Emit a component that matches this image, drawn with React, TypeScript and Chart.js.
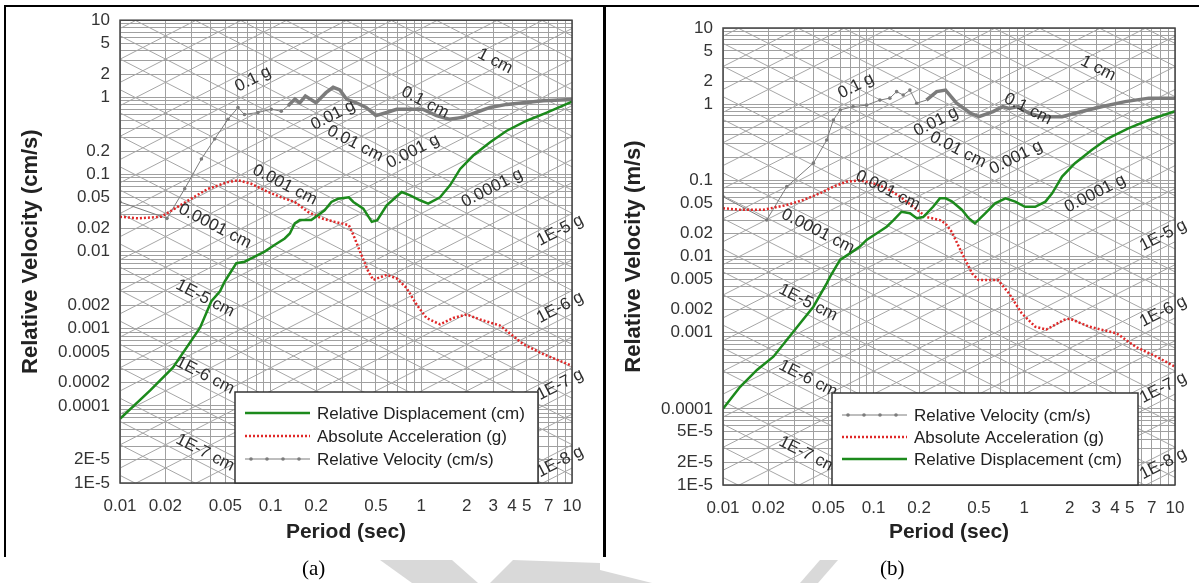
import React, { useEffect, useRef } from 'react';
import { Chart, registerables } from 'chart.js';

Chart.register(...registerables);

// ---------------- Panel (a) data ----------------
const periodDispA = [0.01, 0.0158, 0.0225, 0.034, 0.0404, 0.0461, 0.0496, 0.0592, 0.0672, 0.0783, 0.0912, 0.106, 0.124, 0.134, 0.1445, 0.156, 0.186, 0.206, 0.228, 0.253, 0.28, 0.33, 0.354, 0.412, 0.469, 0.51, 0.589, 0.741, 0.842, 0.98, 1.11, 1.33, 1.55, 1.81, 2.21, 2.86, 3.69, 5.0, 6.8, 10];
const relDispA = [6.8e-5, 1.58e-4, 3.15e-4, 1.03e-3, 2.27e-3, 3.05e-3, 4.1e-3, 7.08e-3, 7.4e-3, 8.6e-3, 0.01, 0.0122, 0.0148, 0.0172, 0.0232, 0.0256, 0.0256, 0.0297, 0.0344, 0.044, 0.0486, 0.0505, 0.044, 0.0361, 0.0243, 0.0256, 0.0399, 0.0593, 0.0537, 0.0463, 0.0419, 0.0505, 0.0723, 0.118, 0.176, 0.261, 0.369, 0.497, 0.635, 0.88];

const periodAccA = [0.01, 0.0132, 0.0188, 0.0231, 0.0297, 0.0384, 0.0521, 0.0607, 0.0743, 0.096, 0.1176, 0.1445, 0.177, 0.217, 0.266, 0.33, 0.354, 0.392, 0.445, 0.48, 0.589, 0.686, 0.798, 0.93, 1.08, 1.33, 1.63, 2.0, 2.45, 3.33, 4.75, 6.45, 10];
const absAccA = [0.0283, 0.027, 0.0283, 0.0361, 0.0486, 0.0653, 0.0796, 0.084, 0.0758, 0.0593, 0.0505, 0.044, 0.0327, 0.027, 0.0243, 0.0221, 0.0164, 0.01, 5.5e-3, 4.3e-3, 5.0e-3, 4.5e-3, 3.37e-3, 2.06e-3, 1.38e-3, 1.14e-3, 1.38e-3, 1.53e-3, 1.32e-3, 1.1e-3, 6.3e-4, 4.68e-4, 3.3e-4];

const periodVelA = [0.01, 0.0205, 0.0269, 0.0347, 0.0425, 0.0521, 0.0607, 0.067, 0.0824, 0.101, 0.1176, 0.13, 0.145, 0.156, 0.17, 0.2, 0.233, 0.26, 0.288, 0.32, 0.37, 0.43, 0.5, 0.589, 0.686, 0.8, 1.02, 1.26, 1.53, 1.89, 2.3, 2.86, 3.69, 4.75, 6.45, 10];
const relVelA = [0.044, 0.027, 0.0653, 0.159, 0.288, 0.52, 0.736, 0.6, 0.636, 0.7, 0.66, 0.77, 0.95, 0.85, 1.04, 0.85, 1.15, 1.35, 1.25, 0.94, 0.85, 0.74, 0.58, 0.636, 0.7, 0.7, 0.7, 0.58, 0.52, 0.55, 0.636, 0.74, 0.81, 0.85, 0.9, 0.94];

// ---------------- Panel (b) data ----------------
const periodDispB = [0.01, 0.013, 0.0168, 0.0216, 0.0265, 0.0325, 0.0398, 0.0488, 0.0513, 0.0598, 0.0696, 0.081, 0.0897, 0.105, 0.122, 0.1355, 0.153, 0.174, 0.193, 0.213, 0.248, 0.275, 0.3, 0.33, 0.386, 0.427, 0.47, 0.55, 0.64, 0.75, 0.87, 1.01, 1.18, 1.38, 1.53, 1.78, 2.17, 2.8, 3.6, 4.9, 6.7, 10];
const relDispB = [1.0e-4, 1.95e-4, 3.24e-4, 4.84e-4, 8.0e-4, 1.33e-3, 2.19e-3, 4.45e-3, 5.4e-3, 9.0e-3, 0.011, 0.0135, 0.0165, 0.0202, 0.0246, 0.0301, 0.0387, 0.037, 0.0318, 0.033, 0.045, 0.058, 0.058, 0.053, 0.0408, 0.0318, 0.0273, 0.0369, 0.0499, 0.058, 0.0525, 0.045, 0.045, 0.0525, 0.0676, 0.112, 0.168, 0.25, 0.356, 0.482, 0.62, 0.81];

const periodAccB = [0.01, 0.013, 0.0185, 0.0265, 0.034, 0.0441, 0.054, 0.066, 0.081, 0.0992, 0.122, 0.15, 0.183, 0.224, 0.275, 0.3, 0.33, 0.386, 0.45, 0.497, 0.67, 0.79, 0.96, 1.18, 1.4, 1.83, 2.0, 2.7, 4.1, 5.5, 7.6, 10];
const absAccB = [0.043, 0.041, 0.041, 0.0474, 0.0552, 0.0676, 0.0826, 0.096, 0.1, 0.0914, 0.0785, 0.061, 0.045, 0.033, 0.0301, 0.027, 0.021, 0.011, 6.0e-3, 4.9e-3, 4.9e-3, 3.29e-3, 1.8e-3, 1.2e-3, 1.1e-3, 1.47e-3, 1.53e-3, 1.2e-3, 9.8e-4, 6.5e-4, 4.8e-4, 3.57e-4];

const periodVelB = [0.01, 0.0195, 0.0265, 0.0398, 0.0488, 0.054, 0.06, 0.073, 0.0897, 0.11, 0.128, 0.142, 0.157, 0.174, 0.193, 0.224, 0.262, 0.3, 0.355, 0.44, 0.5, 0.62, 0.72, 0.79, 0.91, 1.07, 1.3, 1.78, 2.4, 3.3, 4.67, 6.7, 10];
const relVelB = [0.061, 0.0301, 0.0826, 0.168, 0.339, 0.62, 0.84, 0.93, 0.97, 1.13, 1.2, 1.46, 1.32, 1.53, 1.03, 1.13, 1.46, 1.53, 1.03, 0.76, 0.685, 0.8, 0.93, 0.88, 0.93, 0.76, 0.685, 0.685, 0.8, 0.93, 1.08, 1.2, 1.2];

// ---------------- Tick labels ----------------
const xTickValues = [0.01, 0.02, 0.05, 0.1, 0.2, 0.5, 1, 2, 3, 4, 5, 7, 10];
const xTickLabels = ['0.01', '0.02', '0.05', '0.1', '0.2', '0.5', '1', '2', '3', '4', '5', '7', '10'];
const yTickValuesA = [10, 5, 2, 1, 0.2, 0.1, 0.05, 0.02, 0.01, 0.002, 0.001, 0.0005, 0.0002, 0.0001, 2e-5, 1e-5];
const yTickLabelsA = ['10', '5', '2', '1', '0.2', '0.1', '0.05', '0.02', '0.01', '0.002', '0.001', '0.0005', '0.0002', '0.0001', '2E-5', '1E-5'];
const yTickValuesB = [10, 5, 2, 1, 0.1, 0.05, 0.02, 0.01, 0.005, 0.002, 0.001, 0.0001, 5e-5, 2e-5, 1e-5];
const yTickLabelsB = ['10', '5', '2', '1', '0.1', '0.05', '0.02', '0.01', '0.005', '0.002', '0.001', '0.0001', '5E-5', '2E-5', '1E-5'];

// ---------------- Tripartite labels ----------------
const dispLabelText = ['1E-7 cm', '1E-6 cm', '1E-5 cm', '0.0001 cm', '0.001 cm', '0.01 cm', '0.1 cm', '1 cm'];
const dispLabelValues = [1e-7, 1e-6, 1e-5, 1e-4, 1e-3, 0.01, 0.1, 1];
const dispLabelPeriods = [0.034, 0.034, 0.034, 0.0395, 0.115, 0.336, 0.98, 2.86];
const accLabelText = ['0.1 g', '0.01 g', '0.001 g', '0.0001 g', '1E-5 g', '1E-6 g', '1E-7 g', '1E-8 g'];
const accLabelValues = [0.1, 0.01, 0.001, 1e-4, 1e-5, 1e-6, 1e-7, 1e-8];
const accLabelPeriods = [0.0824, 0.28, 0.95, 3.18, 9, 9, 9, 9];

const G_CM = 981;
const FONT = "'Liberation Sans', Arial, Helvetica, sans-serif";
const GREEN = '#1c8a1c';
const RED = '#e02828';
const GRAY = '#7c7c7c';

function velFromDisp(d: number, t: number) { return (2 * Math.PI * d) / t; }
function velFromAcc(a: number, t: number) { return (a * G_CM * t) / (2 * Math.PI); }

function logGrid(minExp: number, maxExp: number) {
  const out: number[] = [];
  for (let e = minExp; e < maxExp; e++) for (let m = 1; m < 10; m++) out.push(m * Math.pow(10, e));
  out.push(Math.pow(10, maxExp));
  return out;
}
function diagValues(minExp: number, maxExp: number) {
  const out: number[] = [];
  for (let e = minExp; e <= maxExp; e++) for (const m of [1, 2, 5]) out.push(m * Math.pow(10, e));
  return out;
}
function labelFor(v: number, vals: number[], labels: string[]) {
  for (let i = 0; i < vals.length; i++) {
    if (Math.abs(Math.log10(v) - Math.log10(vals[i])) < 1e-6) return labels[i];
  }
  return '';
}

const xGrid = logGrid(-2, 1);
const yGrid = logGrid(-5, 1);
const dispDiag = diagValues(-9, 1);
const accDiag = diagValues(-10, 1);

function drawRotText(ctx: CanvasRenderingContext2D, text: string, x: number, y: number, ang: number) {
  ctx.save();
  ctx.translate(x, y);
  ctx.rotate(ang);
  ctx.fillText(text, 0, 0);
  ctx.restore();
}

const tripartitePlugin = {
  id: 'tripartite',
  beforeDatasetsDraw(chart: any) {
    const { ctx, chartArea: ca, scales } = chart;
    const x = scales.x, y = scales.y;
    ctx.save();
    ctx.beginPath();
    ctx.rect(ca.left, ca.top, ca.right - ca.left, ca.bottom - ca.top);
    ctx.clip();
    ctx.strokeStyle = '#a6a6a6';
    ctx.lineWidth = 1;
    const x1 = x.getPixelForValue(0.01), x2 = x.getPixelForValue(10);
    for (const d of dispDiag) {
      ctx.beginPath();
      ctx.moveTo(x1, y.getPixelForValue(velFromDisp(d, 0.01)));
      ctx.lineTo(x2, y.getPixelForValue(velFromDisp(d, 10)));
      ctx.stroke();
    }
    for (const a of accDiag) {
      ctx.beginPath();
      ctx.moveTo(x1, y.getPixelForValue(velFromAcc(a, 0.01)));
      ctx.lineTo(x2, y.getPixelForValue(velFromAcc(a, 10)));
      ctx.stroke();
    }
    ctx.restore();
  },
  afterDatasetsDraw(chart: any, _args: any, opts: any) {
    const { ctx, chartArea: ca, scales } = chart;
    const x = scales.x, y = scales.y;
    ctx.save();
    ctx.strokeStyle = '#444';
    ctx.lineWidth = 1.5;
    ctx.strokeRect(ca.left, ca.top, ca.right - ca.left, ca.bottom - ca.top);

    ctx.fillStyle = '#2e2e2e';
    ctx.font = `17px ${FONT}`;
    ctx.textAlign = 'center';
    ctx.textBaseline = 'middle';
    const off = 11;
    for (let i = 0; i < dispLabelText.length; i++) {
      const t = dispLabelPeriods[i], d = dispLabelValues[i];
      const px = x.getPixelForValue(t), py = y.getPixelForValue(velFromDisp(d, t));
      const qx = x.getPixelForValue(t * 2), qy = y.getPixelForValue(velFromDisp(d, t * 2));
      const ang = Math.atan2(qy - py, qx - px);
      drawRotText(ctx, dispLabelText[i], px + off * Math.sin(ang), py - off * Math.cos(ang), ang);
    }
    for (let i = 0; i < accLabelText.length; i++) {
      const t = accLabelPeriods[i], a = accLabelValues[i];
      const px = x.getPixelForValue(t), py = y.getPixelForValue(velFromAcc(a, t));
      const qx = x.getPixelForValue(t * 2), qy = y.getPixelForValue(velFromAcc(a, t * 2));
      const ang = Math.atan2(qy - py, qx - px);
      drawRotText(ctx, accLabelText[i], px + off * Math.sin(ang), py - off * Math.cos(ang), ang);
    }

    const lg = opts.legend;
    const bl = ca.left + lg.leftOff, br = ca.right - lg.rightOff;
    const bb = ca.bottom, bt = ca.bottom - lg.height;
    ctx.fillStyle = '#ffffff';
    ctx.fillRect(bl, bt, br - bl, bb - bt);
    ctx.strokeStyle = '#333';
    ctx.lineWidth = 1.5;
    ctx.strokeRect(bl, bt, br - bl, bb - bt);
    ctx.font = `17px ${FONT}`;
    ctx.textAlign = 'left';
    ctx.textBaseline = 'middle';
    lg.items.forEach((it: any, i: number) => {
      const yy = bt + lg.rowStart + i * lg.rowGap;
      const sx1 = bl + 10, sx2 = bl + 75;
      ctx.save();
      ctx.beginPath();
      ctx.moveTo(sx1, yy);
      ctx.lineTo(sx2, yy);
      if (it.kind === 'disp') {
        ctx.strokeStyle = GREEN; ctx.lineWidth = 2.5; ctx.stroke();
      } else if (it.kind === 'acc') {
        ctx.strokeStyle = RED; ctx.lineWidth = 2.5; ctx.setLineDash([2, 2]); ctx.stroke();
      } else {
        ctx.strokeStyle = GRAY; ctx.lineWidth = 1; ctx.stroke();
        ctx.fillStyle = GRAY;
        for (let k = sx1 + 6; k < sx2; k += 16) { ctx.beginPath(); ctx.arc(k, yy, 1.8, 0, Math.PI * 2); ctx.fill(); }
      }
      ctx.restore();
      ctx.fillStyle = '#222';
      ctx.fillText(it.text, bl + 82, yy + 1);
    });
    ctx.restore();
  },
};

type Panel = {
  width: number; padTop: number; padRight: number; yAxisWidth: number; xAxisHeight: number;
  yTitle: string; yTitlePad: number; xTitlePad: number;
  yTickValues: number[]; yTickLabels: string[];
  disp: [number[], number[]]; acc: [number[], number[]]; vel: [number[], number[]];
  thickFrom: number;
  legend: any;
};

function pts(p: number[], v: number[]) { return p.map((t, i) => ({ x: t, y: v[i] })); }

function makeConfig(p: Panel): any {
  return {
    type: 'line',
    data: {
      datasets: [
        {
          label: 'Relative Displacement (cm)', data: pts(p.disp[0], p.disp[1]),
          borderColor: GREEN, borderWidth: 2.5, pointRadius: 0, tension: 0, fill: false,
        },
        {
          label: 'Absolute Acceleration (g)', data: pts(p.acc[0], p.acc[1]),
          borderColor: RED, borderWidth: 2.5, borderDash: [2, 2], pointRadius: 0, tension: 0, fill: false,
        },
        {
          label: 'Relative Velocity (cm/s)', data: pts(p.vel[0], p.vel[1]),
          borderColor: GRAY, borderWidth: 1, backgroundColor: GRAY, tension: 0, fill: false,
          pointRadius: (c: any) => (c.raw && c.raw.x < p.thickFrom ? 1.8 : 0),
          pointBorderWidth: 0,
          segment: { borderWidth: (c: any) => (c.p0.parsed.x >= p.thickFrom ? 3.5 : 1) },
        },
      ],
    },
    options: {
      animation: false,
      responsive: false,
      maintainAspectRatio: false,
      events: [],
      layout: { padding: { left: 0, top: p.padTop, right: p.padRight, bottom: 0 } },
      plugins: {
        legend: { display: false },
        tooltip: { enabled: false },
        tripartite: { legend: p.legend },
      },
      scales: {
        x: {
          type: 'logarithmic', min: 0.01, max: 10,
          afterBuildTicks: (s: any) => { s.ticks = xGrid.map((v) => ({ value: v })); },
          afterFit: (s: any) => { s.height = p.xAxisHeight; },
          ticks: {
            autoSkip: false, maxRotation: 0, minRotation: 0, padding: 13, color: '#333',
            font: { family: FONT, size: 17 },
            callback: (v: any) => labelFor(Number(v), xTickValues, xTickLabels),
          },
          grid: { color: '#a0a0a0', lineWidth: 1, drawTicks: false },
          border: { display: false },
          title: {
            display: true, text: 'Period (sec)', color: '#222',
            font: { family: FONT, size: 21, weight: 'bold' },
            padding: { top: 0, bottom: p.xTitlePad },
          },
        },
        y: {
          type: 'logarithmic', min: 1e-5, max: 10,
          afterBuildTicks: (s: any) => { s.ticks = yGrid.map((v) => ({ value: v })); },
          afterFit: (s: any) => { s.width = p.yAxisWidth; },
          ticks: {
            autoSkip: false, padding: 10, color: '#333',
            font: { family: FONT, size: 17 },
            callback: (v: any) => labelFor(Number(v), p.yTickValues, p.yTickLabels),
          },
          grid: { color: '#a0a0a0', lineWidth: 1, drawTicks: false },
          border: { display: false },
          title: {
            display: true, text: p.yTitle, color: '#222',
            font: { family: FONT, size: 22, weight: 'bold' },
            padding: { top: p.yTitlePad, bottom: 0 },
          },
        },
      },
    },
    plugins: [tripartitePlugin],
  };
}

const panelA: Panel = {
  width: 600, padTop: 17, padRight: 28, yAxisWidth: 120, xAxisHeight: 100,
  yTitle: 'Relative Velocity (cm/s)', yTitlePad: 18, xTitlePad: 38,
  yTickValues: yTickValuesA, yTickLabels: yTickLabelsA,
  disp: [periodDispA, relDispA], acc: [periodAccA, absAccA], vel: [periodVelA, relVelA],
  thickFrom: 0.13,
  legend: {
    leftOff: 115, rightOff: 34, height: 91, rowStart: 21, rowGap: 23,
    items: [
      { kind: 'disp', text: 'Relative Displacement (cm)' },
      { kind: 'acc', text: 'Absolute Acceleration (g)' },
      { kind: 'vel', text: 'Relative Velocity (cm/s)' },
    ],
  },
};

const panelB: Panel = {
  width: 599, padTop: 28, padRight: 24, yAxisWidth: 123, xAxisHeight: 98,
  yTitle: 'Relative Velocity (m/s)', yTitlePad: 21, xTitlePad: 38,
  yTickValues: yTickValuesB, yTickLabels: yTickLabelsB,
  disp: [periodDispB, relDispB], acc: [periodAccB, absAccB], vel: [periodVelB, relVelB],
  thickFrom: 0.2,
  legend: {
    leftOff: 109, rightOff: 37, height: 92, rowStart: 22, rowGap: 22,
    items: [
      { kind: 'vel', text: 'Relative Velocity (cm/s)' },
      { kind: 'acc', text: 'Absolute Acceleration (g)' },
      { kind: 'disp', text: 'Relative Displacement (cm)' },
    ],
  },
};

function PanelChart({ panel, left }: { panel: Panel; left: number }) {
  const ref = useRef<HTMLCanvasElement | null>(null);
  useEffect(() => {
    if (!ref.current) return;
    const chart = new Chart(ref.current, makeConfig(panel));
    return () => chart.destroy();
  }, [panel]);
  return (
    <canvas
      ref={ref}
      width={panel.width}
      height={583}
      style={{ position: 'absolute', left, top: 0, width: panel.width, height: 583 }}
    />
  );
}

export default function App() {
  return (
    <div style={{ position: 'absolute', left: 0, top: 0, width: 1199, height: 583, background: '#fff', overflow: 'hidden' }}>
      <svg width={1199} height={583} style={{ position: 'absolute', left: 0, top: 0 }}>
        <polygon points="380,560 452,560 478,583 412,583" fill="#d9d9d9" />
        <polygon points="513,560 600,563 600,583 490,583" fill="#d9d9d9" />
        <polygon points="600,570 652,583 600,583" fill="#d9d9d9" />
        <polygon points="800,583 820,560 838,560 818,583" fill="#d9d9d9" />
      </svg>
      <PanelChart panel={panelA} left={0} />
      <PanelChart panel={panelB} left={600} />
      <div style={{ position: 'absolute', left: 5, top: 5, width: 1194, height: 2, background: '#000' }} />
      <div style={{ position: 'absolute', left: 4, top: 5, width: 2, height: 552, background: '#000' }} />
      <div style={{ position: 'absolute', left: 603, top: 5, width: 3, height: 552, background: '#000' }} />
      <div style={{ position: 'absolute', left: 302, top: 556, fontFamily: "'Liberation Serif', 'Times New Roman', serif", fontSize: 21, color: '#000', lineHeight: '24px' }}>(a)</div>
      <div style={{ position: 'absolute', left: 880, top: 556, fontFamily: "'Liberation Serif', 'Times New Roman', serif", fontSize: 21, color: '#000', lineHeight: '24px' }}>(b)</div>
    </div>
  );
}
